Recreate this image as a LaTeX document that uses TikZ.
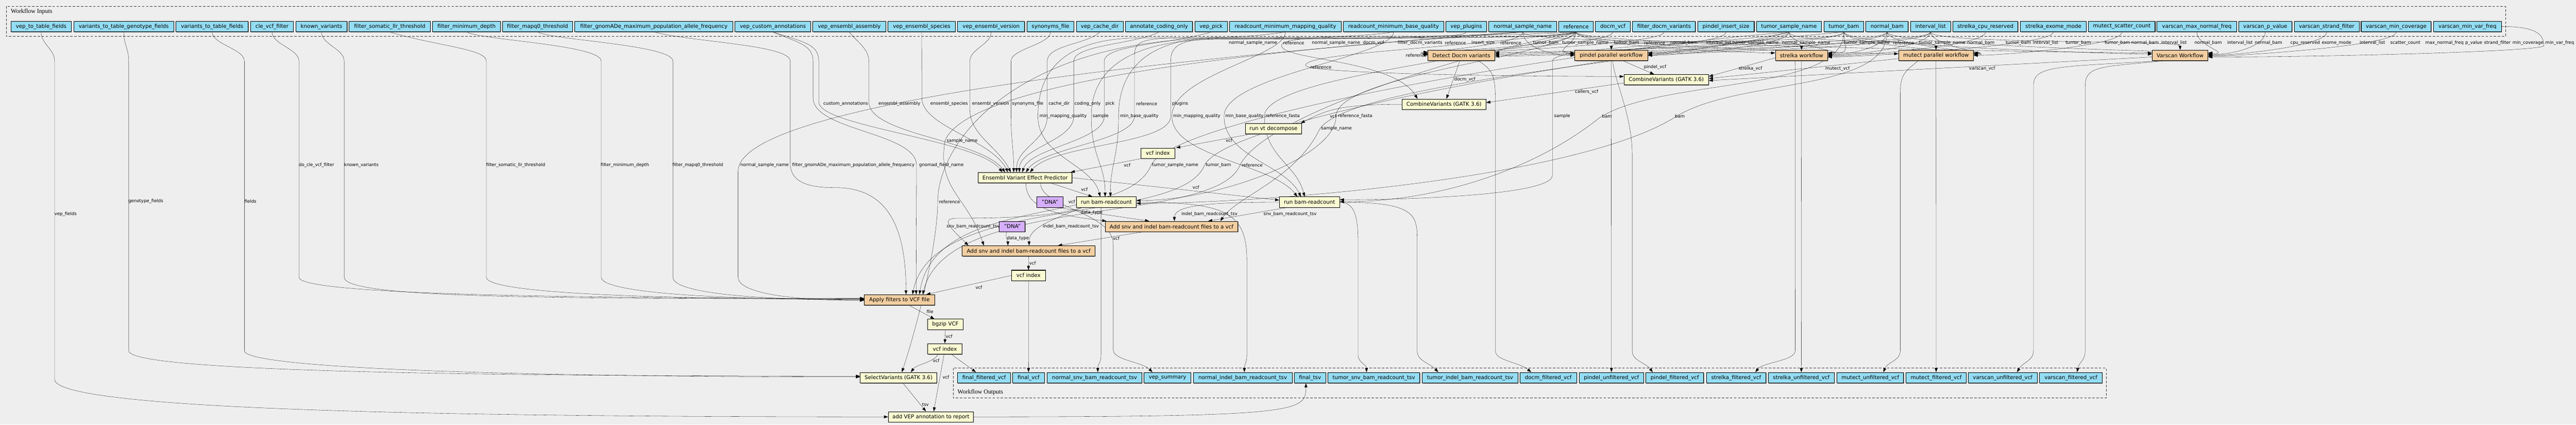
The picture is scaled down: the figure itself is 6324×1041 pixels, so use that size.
\documentclass[tikz,border=0pt]{standalone}
\usepackage{fontspec}
\setmainfont{DejaVu Sans}
\newfontfamily\clusterfont{Liberation Serif}
\usetikzlibrary{arrows.meta,shadows}
\definecolor{canvas}{HTML}{EEEEEE}
\definecolor{inblue}{HTML}{94DDF4}
\definecolor{stepyellow}{HTML}{FAFAD2}
\definecolor{wforange}{HTML}{F3CEA1}
\definecolor{dnapurple}{HTML}{D5AEFC}
\pgfdeclarelayer{back}
\pgfdeclarelayer{edges}
\pgfsetlayers{back,edges,main}
\tikzset{
  gvbox/.style={draw, line width=1.3pt, inner xsep=2pt, inner ysep=0pt, minimum height=25.5pt,
    font=\fontsize{13}{15}\selectfont,
    drop shadow={shadow xshift=1pt, shadow yshift=-1.5pt, opacity=0.7, fill=black!60}},
  inbox/.style={gvbox, fill=inblue, minimum height=26pt},
  stepbox/.style={gvbox, fill=stepyellow},
  wfbox/.style={gvbox, fill=wforange},
  dnabox/.style={gvbox, fill=dnapurple},
  elabel/.style={font=\fontsize{10.8}{12}\selectfont, inner sep=0pt},
  cluster/.style={draw=black!80, line width=1.4pt, dash pattern=on 6pt off 4pt},
  clusterlabel/.style={font=\clusterfont\fontsize{15}{17}\selectfont, anchor=west, inner sep=0pt},
}
\begin{document}
\begin{tikzpicture}[x=1pt, y=-1pt, line width=1.3pt, >={Triangle[length=10pt,width=7pt]}]
\useasboundingbox (0,0) rectangle (6324,1041);
\begin{pgfonlayer}{back}
  \fill[canvas] (0,0) rectangle (6324,1041);
  \draw[cluster] (15.4,15.7) rectangle (6151.7,89);
  \draw[cluster] (2340,902.5) rectangle (5171,975.7);
\end{pgfonlayer}
\node[clusterlabel] (inlabel) at (26.5,28) {Workflow Inputs};
\node[clusterlabel] (outlabel) at (2350.7,962) {Workflow Outputs};

% workflow inputs
\node[inbox, minimum width=148.7] (vepfields) at (101.05,65) {vep\_to\_table\_fields};
\node[inbox, minimum width=245.5] (genofields) at (303.75,65) {variants\_to\_table\_genotype\_fields};
\node[inbox, minimum width=177.5] (tablefields) at (520.85,65) {variants\_to\_table\_fields};
\node[inbox, minimum width=105.3] (clefilter) at (667.85,65) {cle\_vcf\_filter};
\node[inbox, minimum width=126.2] (knownvar) at (789.2,65) {known\_variants};
\node[inbox, minimum width=199.3] (llrthresh) at (956.85,65) {filter\_somatic\_llr\_threshold};
\node[inbox, minimum width=167] (mindepth) at (1145.4,65) {filter\_minimum\_depth};
\node[inbox, minimum width=171.9] (mapqthresh) at (1319.75,65) {filter\_mapq0\_threshold};
\node[inbox, minimum width=387.9] (gnomadfreq) at (1605.25,65) {filter\_gnomADe\_maximum\_population\_allele\_frequency};
\node[inbox, minimum width=185.2] (customann) at (1897.4,65) {vep\_custom\_annotations};
\node[inbox, minimum width=178.8] (ensassembly) at (2085,65) {vep\_ensembl\_assembly};
\node[inbox, minimum width=165.5] (ensspecies) at (2262.75,65) {vep\_ensembl\_species};
\node[inbox, minimum width=164.2] (ensversion) at (2433.2,65) {vep\_ensembl\_version};
\node[inbox, minimum width=115.8] (synonyms) at (2578.8,65) {synonyms\_file};
\node[inbox, minimum width=115] (cachedir) at (2699.8,65) {vep\_cache\_dir};
\node[inbox, minimum width=164.9] (codingonly) at (2845.35,65) {annotate\_coding\_only};
\node[inbox, minimum width=80] (veppick) at (2973.4,65) {vep\_pick};
\node[inbox, minimum width=273.4] (rcmapq) at (3155.7,65) {readcount\_minimum\_mapping\_quality};
\node[inbox, minimum width=246.3] (rcbaseq) at (3421.15,65) {readcount\_minimum\_base\_quality};
\node[inbox, minimum width=99.6] (vepplugins) at (3599.7,65) {vep\_plugins};
\node[inbox, minimum width=166.2] (normalname) at (3738.2,65) {normal\_sample\_name};
\node[inbox, minimum width=84.1] (reference) at (3869.05,65) {reference};
\node[inbox, minimum width=85.5] (docmvcf) at (3959.55,65) {docm\_vcf};
\node[inbox, minimum width=154.3] (filterdocm) at (4085.15,65) {filter\_docm\_variants};
\node[inbox, minimum width=138.7] (insertsize) at (4237.25,65) {pindel\_insert\_size};
\node[inbox, minimum width=159.3] (tumorname) at (4391.85,65) {tumor\_sample\_name};
\node[inbox, minimum width=97.5] (tumorbam) at (4526.55,65) {tumor\_bam};
\node[inbox, minimum width=103.8] (normalbam) at (4632.8,65) {normal\_bam};
\node[inbox, minimum width=98.2] (intervals) at (4739.5,65) {interval\_list};
\node[inbox, minimum width=159.9] (strelkacpu) at (4874.15,65) {strelka\_cpu\_reserved};
\node[inbox, minimum width=161.4] (strelkaexome) at (5041.1,65) {strelka\_exome\_mode};
\node[inbox, minimum width=163.2] (mutectscatter) at (5209,65) {mutect\_scatter\_count};
\node[inbox, minimum width=195] (vsmaxnormal) at (5393.1,65) {varscan\_max\_normal\_freq};
\node[inbox, minimum width=131.2] (vspvalue) at (5561.1,65) {varscan\_p\_value};
\node[inbox, minimum width=159.2] (vsstrand) at (5711.9,65) {varscan\_strand\_filter};
\node[inbox, minimum width=171.9] (vsmincov) at (5882.45,65) {varscan\_min\_coverage};
\node[inbox, minimum width=167] (vsminvar) at (6057.5,65) {varscan\_min\_var\_freq};

% steps
\node[wfbox, minimum width=164.1] (docm) at (3587.75,135.8) {Detect Docm variants};
\node[wfbox, minimum width=178.9] (pindel) at (3955.65,135.8) {pindel parallel workflow};
\node[wfbox, minimum width=128.4] (strelka) at (4422.7,135.8) {strelka workflow};
\node[wfbox, minimum width=183.8] (mutect) at (4752.8,135.8) {mutect parallel workflow};
\node[wfbox, minimum width=136.8] (varscan) at (5352,135.8) {Varscan Workflow};
\node[stepbox, minimum width=207.6] (combine) at (4090.7,195.5) {CombineVariants (GATK 3.6)};
\node[stepbox, minimum width=206.2] (adddocm) at (3544.9,255.7) {CombineVariants (GATK 3.6)};
\node[stepbox, minimum width=138.3] (decompose) at (3126.5,315.5) {run vt decompose};
\node[stepbox, minimum width=82.9] (decompidx) at (2842.45,375.8) {vcf index};
\node[stepbox, minimum width=230.5] (vep) at (2516.55,435.8) {Ensembl Variant Effect Predictor};
\node[dnabox, minimum width=63.9] (dnaA) at (2577.55,495.8) {"DNA"};
\node[stepbox, minimum width=146.8] (normalrc) at (2716,495.8) {run bam-readcount};
\node[stepbox, minimum width=147.6] (tumorrc) at (3214.8,495.8) {run bam-readcount};
\node[wfbox, minimum width=325.9] (addtumor) at (2876.05,555.5) {Add snv and indel bam-readcount files to a vcf};
\node[dnabox, minimum width=63] (dnaB) at (2485.1,555.5) {"DNA"};
\node[wfbox, minimum width=325.8] (addnormal) at (2525.3,615.5) {Add snv and indel bam-readcount files to a vcf};
\node[stepbox, minimum width=82.9] (index) at (2524.85,675.5) {vcf index};
\node[wfbox, minimum width=172.5] (filter) at (2208.15,735.5) {Apply filters to VCF file};
\node[stepbox, minimum width=86.2] (bgzip) at (2320.9,795.5) {bgzip VCF};
\node[stepbox, minimum width=83.7] (filtidx) at (2319.65,855.5) {vcf index};
\node[stepbox, minimum width=188.3, minimum height=26] (select) at (2206.05,926.3) {SelectVariants (GATK 3.6)};
\node[stepbox, minimum width=208.9] (report) at (2285.25,1022.2) {add VEP annotation to report};

% workflow outputs
\node[inbox, minimum width=130.3] (outffvcf) at (2415.85,926.3) {final\_filtered\_vcf};
\node[inbox, minimum width=77.9] (outfvcf) at (2524.95,926.3) {final\_vcf};
\node[inbox, minimum width=233] (outnsnv) at (2687,926.3) {normal\_snv\_bam\_readcount\_tsv};
\node[inbox, minimum width=115.3] (outvepsum) at (2866.15,926.3) {vep\_summary};
\node[inbox, minimum width=243] (outnindel) at (3050.8,926.3) {normal\_indel\_bam\_readcount\_tsv};
\node[inbox, minimum width=77] (outftsv) at (3216,926.3) {final\_tsv};
\node[inbox, minimum width=225.5] (outtsnv) at (3372.65,926.3) {tumor\_snv\_bam\_readcount\_tsv};
\node[inbox, minimum width=234.2] (outtindel) at (3609,926.3) {tumor\_indel\_bam\_readcount\_tsv};
\node[inbox, minimum width=138.8] (outdocm) at (3800.9,926.3) {docm\_filtered\_vcf};
\node[inbox, minimum width=158.3] (outpunf) at (3955.95,926.3) {pindel\_unfiltered\_vcf};
\node[inbox, minimum width=142] (outpfil) at (4111.5,926.3) {pindel\_filtered\_vcf};
\node[inbox, minimum width=146.4] (outsfil) at (4262.2,926.3) {strelka\_filtered\_vcf};
\node[inbox, minimum width=162.6] (outsunf) at (4422.1,926.3) {strelka\_unfiltered\_vcf};
\node[inbox, minimum width=163.4] (outmunf) at (4591.6,926.3) {mutect\_unfiltered\_vcf};
\node[inbox, minimum width=148.2] (outmfil) at (4753.1,926.3) {mutect\_filtered\_vcf};
\node[inbox, minimum width=169.7] (outvunf) at (4916.55,926.3) {varscan\_unfiltered\_vcf};
\node[inbox, minimum width=153.9] (outvfil) at (5083.95,926.3) {varscan\_filtered\_vcf};

\begin{pgfonlayer}{edges}
% inputs into the caller workflows
\draw[->] (reference.south) .. controls +(0,40) and +(-60,0) .. ([yshift=8]docm.west) node[elabel] at (3477,136) {reference};
\draw[->] (normalname.south) .. controls +(0,35) and +(-70,0) .. ([yshift=5]docm.west) node[elabel] at (3076,105) {normal\_sample\_name};
\draw[->] (docmvcf.south) .. controls +(0,35) and +(-60,0) .. ([yshift=3]docm.west) node[elabel] at (3372,105) {docm\_vcf};
\draw[->] (filterdocm.south) .. controls +(0,35) and +(-60,0) .. ([yshift=1]docm.west) node[elabel] at (3486,105) {filter\_docm\_variants};
\draw[->] (tumorbam.south) .. controls +(0,35) and +(60,0) .. ([yshift=7]docm.east) node[elabel] at (3795,105) {tumor\_bam};
\draw[->] (tumorname.south) .. controls +(0,35) and +(60,0) .. ([yshift=4]docm.east) node[elabel] at (3892,105) {tumor\_sample\_name};
\draw[->] (normalbam.south) .. controls +(0,35) and +(60,0) .. ([yshift=1]docm.east) node[elabel] at (5569,105) {normal\_bam};
\draw[->] (intervals.south) .. controls +(0,35) and +(60,0) .. ([yshift=-2]docm.east) node[elabel] at (5824,105) {interval\_list};

\draw[->] (reference.south) .. controls +(0,30) and +(-60,0) .. ([yshift=6]pindel.west) node[elabel] at (3573,105) {reference};
\draw[->] (insertsize.south) .. controls +(0,35) and +(-60,0) .. ([yshift=3]pindel.west) node[elabel] at (3641,105) {insert\_size};
\draw[->] (normalname.south) .. controls +(0,35) and +(-60,0) .. (pindel.west) node[elabel] at (3280,105) {normal\_sample\_name};
\draw[->] (tumorbam.south) .. controls +(0,30) and +(0,-25) .. (pindel.north) node[elabel] at (3993,105) {tumor\_bam};
\draw[->] (normalbam.south) .. controls +(0,35) and +(60,0) .. ([yshift=6]pindel.east) node[elabel] at (4134,105) {normal\_bam};
\draw[->] (intervals.south) .. controls +(0,35) and +(60,0) .. ([yshift=3]pindel.east) node[elabel] at (4219,105) {interval\_list};
\draw[->] (tumorname.south) .. controls +(0,35) and +(60,0) .. (pindel.east) node[elabel] at (4310,105) {tumor\_sample\_name};

\draw[->] (reference.south) .. controls +(0,35) and +(-60,0) .. ([yshift=6]strelka.west) node[elabel] at (3709,105) {reference};
\draw[->] (normalname.south) .. controls +(0,30) and +(0,-25) .. (strelka.north) node[elabel] at (4434,105) {normal\_sample\_name};
\draw[->] (tumorname.south) .. controls +(0,35) and +(60,0) .. ([yshift=6]strelka.east) node[elabel] at (4583,105) {tumor\_sample\_name};
\draw[->] (tumorbam.south) .. controls +(0,35) and +(60,0) .. ([yshift=4]strelka.east) node[elabel] at (5102,105) {tumor\_bam};
\draw[->] (normalbam.south) .. controls +(0,35) and +(60,0) .. ([yshift=2]strelka.east) node[elabel] at (5266,105) {normal\_bam};
\draw[->] (intervals.south) .. controls +(0,35) and +(60,0) .. (strelka.east) node[elabel] at (5499,105) {interval\_list};
\draw[->] (strelkacpu.south) .. controls +(0,35) and +(60,0) .. ([yshift=-2]strelka.east) node[elabel] at (5659,105) {cpu\_reserved};
\draw[->] (strelkaexome.south) .. controls +(0,35) and +(60,0) .. ([yshift=-4]strelka.east) node[elabel] at (5736,105) {exome\_mode};

\draw[->] (reference.south) .. controls +(0,35) and +(-60,0) .. ([yshift=4]mutect.west) node[elabel] at (4062,105) {reference};
\draw[->] (tumorname.south) .. controls +(0,30) and +(0,-25) .. (mutect.north) node[elabel] at (4768,105) {tumor\_sample\_name};
\draw[->] (normalbam.south) .. controls +(0,35) and +(60,0) .. ([yshift=6]mutect.east) node[elabel] at (4863,105) {normal\_bam};
\draw[->] (tumorbam.south) .. controls +(0,35) and +(60,0) .. ([yshift=4]mutect.east) node[elabel] at (4955,105) {tumor\_bam};
\draw[->] (intervals.south) .. controls +(0,35) and +(60,0) .. ([yshift=2]mutect.east) node[elabel] at (5022,105) {interval\_list};
\draw[->] (mutectscatter.south) .. controls +(0,35) and +(60,0) .. (mutect.east) node[elabel] at (5905,105) {scatter\_count};

\draw[->] (reference.south) .. controls +(0,35) and +(-60,0) .. ([yshift=6]varscan.west) node[elabel] at (4673,105) {reference};
\draw[->] (tumorbam.south) .. controls +(0,35) and +(-60,0) .. ([yshift=3]varscan.west) node[elabel] at (5198,105) {tumor\_bam};
\draw[->] (intervals.south) .. controls +(0,30) and +(0,-25) .. (varscan.north) node[elabel] at (5337,105) {interval\_list};
\draw[->] (normalbam.south) .. controls +(0,35) and +(60,0) .. ([yshift=6]varscan.east) node[elabel] at (5421,105) {normal\_bam};
\draw[->] (vsmaxnormal.south) .. controls +(0,35) and +(60,0) .. ([yshift=4]varscan.east) node[elabel] at (6001,105) {max\_normal\_freq};
\draw[->] (vspvalue.south) .. controls +(0,35) and +(60,0) .. ([yshift=2]varscan.east) node[elabel] at (6073,105) {p\_value};
\draw[->] (vsstrand.south) .. controls +(0,35) and +(60,0) .. (varscan.east) node[elabel] at (6131,105) {strand\_filter};
\draw[->] (vsmincov.south) .. controls +(0,35) and +(60,0) .. ([yshift=-2]varscan.east) node[elabel] at (6206,105) {min\_coverage};
\draw[->] (vsminvar.east) .. controls +(80,0) and +(0,-30) .. (6245,112) .. controls +(0,14) and +(300,0) .. ([yshift=-4]varscan.east) node[elabel] at (6284,105) {min\_var\_freq};

% callers combined, decomposed, indexed
\draw[->] ([xshift=29]pindel.south) -- ([xshift=-30]combine.north) node[elabel] at (4063,165) {pindel\_vcf};
\draw[->] ([yshift=-6]strelka.west) -- ([yshift=8]combine.east) node[elabel] at (4297,168) {strelka\_vcf};
\draw[->] ([yshift=-8]mutect.west) -- ([yshift=3]combine.east) node[elabel] at (4511,168) {mutect\_vcf};
\draw[->] ([yshift=-4]varscan.west) -- ([yshift=-2]combine.east) node[elabel] at (4866,169) {varscan\_vcf};
\draw[->] (reference.south) .. controls +(-300,40) and +(0,-30) .. (3205,160) .. controls +(0,20) and +(-300,0) .. ([yshift=8]combine.west) node[elabel] at (3243,165) {reference};
\draw[->] ([xshift=-4]docm.south) -- ([xshift=6]adddocm.north) node[elabel] at (3596,195) {docm\_vcf};
\draw[->] ([yshift=-8]combine.west) -- ([yshift=4]adddocm.east) node[elabel] at (3895,225) {callers\_vcf};
\draw[->] (reference.south) .. controls +(-400,20) and +(40,-30) .. (3147,108) .. controls +(-20,40) and +(-60,-100) .. ([xshift=-65]adddocm.north) node[elabel] at (3176,105) {reference};
\draw[->] (adddocm.west) .. controls +(-160,0) and +(60,-30) .. ([xshift=-3]decompose.north east) node[elabel] at (3273,285) {vcf};
\draw[->] ([xshift=-57]decompose.south) -- ([xshift=3]decompidx.north east) node[elabel] at (3017,345) {vcf};
\draw[->] (decompidx.south west) -- ([xshift=-4]vep.north east) node[elabel] at (2767,405) {vcf};

% inputs into VEP
\draw[->] (customann.south) .. controls +(80,25) and +(0,-40) .. (2010,150) -- (2010,250) .. controls +(0,60) and +(-60,-80) .. ([xshift=-56]vep.north) node[elabel] at (2076,255) {custom\_annotations};
\draw[->] (ensassembly.south) .. controls +(20,25) and +(0,-30) .. (2133,150) -- (2133,250) .. controls +(0,80) and +(-60,-80) .. ([xshift=-49]vep.north) node[elabel] at (2208,255) {ensembl\_assembly};
\draw[->] (ensspecies.south) -- (2263,240) .. controls +(0,70) and +(-40,-80) .. ([xshift=-42]vep.north) node[elabel] at (2330,255) {ensembl\_species};
\draw[->] (ensversion.south) .. controls +(0,30) and +(0,-30) .. (2381,150) -- (2381,270) .. controls +(0,60) and +(-30,-60) .. ([xshift=-35]vep.north) node[elabel] at (2432,255) {ensembl\_version};
\draw[->] (synonyms.south) .. controls +(0,30) and +(0,-30) .. (2482,150) -- (2482,285) .. controls +(0,60) and +(0,-60) .. ([xshift=-28]vep.north) node[elabel] at (2523,255) {synonyms\_file};
\draw[->] (cachedir.south) .. controls +(-30,30) and +(0,-40) .. (2571,150) -- (2571,285) .. controls +(0,60) and +(0,-60) .. ([xshift=-21]vep.north) node[elabel] at (2600,255) {cache\_dir};
\draw[->] (codingonly.south) .. controls +(-60,30) and +(0,-40) .. (2636,150) -- (2636,285) .. controls +(0,60) and +(0,-60) .. ([xshift=-14]vep.north) node[elabel] at (2670,255) {coding\_only};
\draw[->] (veppick.south) .. controls +(-100,30) and +(0,-40) .. (2711,150) -- (2711,285) .. controls +(0,60) and +(20,-60) .. ([xshift=-7]vep.north) node[elabel] at (2725,255) {pick};
\draw[->] (reference.south) .. controls +(0,14) and +(300,0) .. (3200,93) -- (2900,93) .. controls +(-120,0) and +(0,-40) .. (2785,150) -- (2785,285) .. controls +(0,60) and +(40,-60) .. ([xshift=2]vep.north) node[elabel] at (2815,255) {reference};
\draw[->] (vepplugins.south) .. controls +(0,14) and +(250,0) .. (3150,95) -- (3000,95) .. controls +(-100,0) and +(0,-40) .. (2874,150) -- (2874,285) .. controls +(0,70) and +(60,-70) .. ([xshift=12]vep.north) node[elabel] at (2897,255) {plugins};

% bam-readcount
\draw[->] ([xshift=64]vep.south) -- ([xshift=-34]normalrc.north) node[elabel] at (2662,465) {vcf};
\draw[->] (vep.east) -- ([yshift=5]tumorrc.west) node[elabel] at (2936,459) {vcf};
\draw[->] (rcmapq.south) .. controls +(-100,14) and +(200,0) .. (2800,93) .. controls +(-200,0) and +(0,-100) .. (2548,285) .. controls +(0,100) and +(-20,-80) .. ([xshift=-15]normalrc.north) node[elabel] at (2610,285) {min\_mapping\_quality};
\draw[->] (normalname.south) .. controls +(-200,14) and +(250,0) .. (3000,96) .. controls +(-250,0) and +(0,-100) .. (2679,285) .. controls +(0,100) and +(0,-80) .. ([xshift=-3]normalrc.north) node[elabel] at (2702,285) {sample};
\draw[->] (rcbaseq.south) .. controls +(-100,14) and +(200,0) .. (3000,92) .. controls +(-200,0) and +(0,-100) .. (2746,285) .. controls +(0,100) and +(0,-80) .. ([xshift=10]normalrc.north) node[elabel] at (2797,285) {min\_base\_quality};
\draw[->] (reference.south) .. controls +(-50,60) and +(0,-100) .. (3280,285) .. controls +(0,100) and +(200,0) .. ([yshift=4]normalrc.east) node[elabel] at (3327,285) {reference\_fasta};
\draw[->] (normalbam.south) .. controls +(0,150) and +(150,-100) .. (4108,290) .. controls +(-250,150) and +(300,0) .. ([yshift=-3]normalrc.east) node[elabel] at (4124,285) {bam};
\draw[->] (rcmapq.south) .. controls +(0,60) and +(0,-100) .. (2877,285) .. controls +(0,100) and +(-60,-80) .. ([xshift=-30]tumorrc.north) node[elabel] at (2938,285) {min\_mapping\_quality};
\draw[->] (rcbaseq.south) .. controls +(0,60) and +(0,-100) .. (3005,285) .. controls +(0,100) and +(-40,-80) .. ([xshift=-21]tumorrc.north) node[elabel] at (3055,285) {min\_base\_quality};
\draw[->] (reference.south) .. controls +(-150,60) and +(0,-100) .. (3104,285) .. controls +(0,100) and +(-20,-80) .. ([xshift=-12]tumorrc.north) node[elabel] at (3149,285) {reference\_fasta};
\draw[->] (tumorname.south) .. controls +(-100,30) and +(0,-40) .. (3811,150) -- (3811,430) .. controls +(0,50) and +(150,0) .. ([yshift=6]tumorrc.east) node[elabel] at (3835,285) {sample};
\draw[->] (tumorbam.south) .. controls +(0,150) and +(150,-100) .. (3925,290) .. controls +(-150,120) and +(250,0) .. ([yshift=1]tumorrc.east) node[elabel] at (3945,285) {bam};

% readcounts written into the vcf
\draw[->] ([xshift=2]vep.south) .. controls +(0,60) and +(-130,-15) .. ([xshift=-160]addtumor.north) node[elabel] at (2631,495) {vcf};
\draw[->] ([xshift=20]dnaA.south) -- ([xshift=-55]addtumor.north) node[elabel] at (2680,521) {data\_type};
\draw[->] ([xshift=-57]tumorrc.south) -- ([xshift=90]addtumor.north) node[elabel] at (3167,525) {snv\_bam\_readcount\_tsv};
\draw[->] (tumorrc.west) .. controls +(-160,0) and +(0,-40) .. ([xshift=7]addtumor.north) node[elabel] at (2969,525) {indel\_bam\_readcount\_tsv};
\draw[->] (tumorname.south) .. controls +(-200,60) and +(60,-120) .. (3238,320) .. controls +(-60,120) and +(40,-60) .. ([xshift=120]addtumor.north) node[elabel] at (3281,315) {sample\_name};
\draw[->] ([xshift=-72]addtumor.south) -- ([xshift=72]addnormal.north) node[elabel] at (2740,585) {vcf};
\draw[->] ([xshift=-14]dnaB.south) .. controls +(-4,15) and +(0,-15) .. ([xshift=-51]addnormal.north) node[elabel] at (2499,585) {data\_type};
\draw[->] ([xshift=-60]normalrc.south) .. controls +(-80,25) and +(80,0) .. (2350,535) .. controls +(-45,0) and +(-40,-40) .. ([xshift=-148]addnormal.north) node[elabel] at (2389,555) {snv\_bam\_readcount\_tsv};
\draw[->] ([xshift=-61]normalrc.south) .. controls +(-70,30) and +(0,-45) .. ([xshift=1]addnormal.north) node[elabel] at (2629,555) {indel\_bam\_readcount\_tsv};
\draw[->] (normalname.south) .. controls +(-600,40) and +(60,-150) .. (2320,345) .. controls +(-20,120) and +(-40,-120) .. ([xshift=-110]addnormal.north) node[elabel] at (2362,345) {sample\_name};
\draw[->] (addnormal.south) -- (index.north) node[elabel] at (2535,645) {vcf};

% filtering
\draw[->] (clefilter.south) .. controls +(0,30) and +(0,-30) .. (734,150) -- (734,680) .. controls +(0,40) and +(-800,0) .. ([yshift=4]filter.west) node[elabel] at (777,405) {do\_cle\_vcf\_filter};
\draw[->] (knownvar.south) .. controls +(0,30) and +(0,-30) .. (845,150) -- (845,680) .. controls +(0,50) and +(-800,0) .. ([yshift=3]filter.west) node[elabel] at (887,405) {known\_variants};
\draw[->] (llrthresh.south) .. controls +(120,35) and +(0,-30) .. (1194,150) -- (1194,680) .. controls +(0,35) and +(-600,0) .. ([yshift=2]filter.west) node[elabel] at (1266,405) {filter\_somatic\_llr\_threshold};
\draw[->] (mindepth.south) .. controls +(40,20) and +(0,-40) .. (1476,150) -- (1476,680) .. controls +(0,35) and +(-400,0) .. ([yshift=1]filter.west) node[elabel] at (1534,405) {filter\_minimum\_depth};
\draw[->] (mapqthresh.south) .. controls +(40,20) and +(0,-40) .. (1652,150) -- (1652,680) .. controls +(0,35) and +(-300,0) .. (filter.west) node[elabel] at (1713,405) {filter\_mapq0\_threshold};
\draw[->] (normalname.south) .. controls +(-400,30) and +(0,-200) .. (1812,420) -- (1812,680) .. controls +(0,35) and +(-200,0) .. ([yshift=-1]filter.west) node[elabel] at (1877,405) {normal\_sample\_name};
\draw[->] (gnomadfreq.south) .. controls +(100,25) and +(0,-40) .. (1940,150) -- (1940,400) .. controls +(0,50) and +(-60,0) .. (2050,460) .. controls +(120,0) and +(0,-180) .. ([xshift=16]filter.north) node[elabel] at (2095,405) {filter\_gnomADe\_maximum\_population\_allele\_frequency};
\draw[->] (customann.south) .. controls +(60,25) and +(0,-40) .. (1996,150) -- (1996,240) .. controls +(0,80) and +(0,-80) .. (2250,405) .. controls +(0,100) and +(0,-150) .. ([xshift=41]filter.north) node[elabel] at (2311,405) {gnomad\_field\_name};
\draw[->] (tumorbam.south) .. controls +(-500,40) and +(60,-120) .. (2957,405) .. controls +(-60,150) and +(50,-250) .. ([xshift=32]filter.north) node[elabel] at (2991,405) {tumor\_bam};
\draw[->] (tumorname.south) .. controls +(-500,40) and +(60,-120) .. (2826,405) .. controls +(-60,150) and +(40,-250) .. ([xshift=49]filter.north) node[elabel] at (2885,405) {tumor\_sample\_name};
\draw[->] (reference.south) .. controls +(-300,60) and +(60,-120) .. (3044,405) .. controls +(-60,150) and +(60,-250) .. ([xshift=57]filter.north) node[elabel] at (3074,405) {reference};
\draw[->] (index.west) -- ([xshift=66]filter.north) node[elabel] at (2403,705) {vcf};
\draw[->] ([xshift=24]filter.south) -- ([xshift=-27]bgzip.north) node[elabel] at (2283,764) {file};
\draw[->] (bgzip.south) -- (filtidx.north) node[elabel] at (2330,825) {vcf};

% tables and report
\draw[->] (vepfields.south) .. controls +(0,30) and +(0,-30) .. (134,150) -- (134,930) .. controls +(0,75) and +(-1100,0) .. (report.west) node[elabel] at (161,525) {vep\_fields};
\draw[->] (genofields.south) .. controls +(0,30) and +(0,-30) .. (316,150) -- (316,860) .. controls +(0,50) and +(-1000,0) .. ([yshift=4]select.west) node[elabel] at (358,494) {genotype\_fields};
\draw[->] (tablefields.south) .. controls +(0,30) and +(0,-30) .. (600,150) -- (600,860) .. controls +(0,45) and +(-800,0) .. ([yshift=2]select.west) node[elabel] at (615,494) {fields};
\draw[->] (reference.south) .. controls +(0,16) and +(400,0) .. (3000,94) .. controls +(-500,0) and +(0,-150) .. (2302,495) .. controls +(0,100) and +(40,-120) .. ([xshift=8]select.north) node[elabel] at (2331,495) {reference};
\draw[->] ([xshift=-17]filtidx.south) .. controls +(-10,20) and +(15,-20) .. ([xshift=30]select.north) node[elabel] at (2298,885) {vcf};
\draw[->] ([xshift=-2]filtidx.south) -- ([xshift=7]report.north) node[elabel] at (2322,925) {vcf};
\draw[->] ([xshift=11]select.south) -- ([xshift=-12]report.north) node[elabel] at (2272,992) {tsv};

% into the workflow outputs
\draw[->] ([xshift=16]filtidx.south) -- ([xshift=-20]outffvcf.north);
\draw[->] (index.south) -- (outfvcf.north);
\draw[->] ([xshift=-13]normalrc.south) -- (2703,870) .. controls +(0,20) and +(0,-20) .. ([xshift=8]outnsnv.north);
\draw[->] ([xshift=38]vep.south) .. controls +(0,60) and +(0,-80) .. (2733,600) -- (2733,858) .. controls +(0,25) and +(-25,-25) .. ([xshift=-37]outvepsum.north);
\draw[->] (normalrc.east) .. controls +(220,0) and +(0,-120) .. (3061,640) -- (3061,870) .. controls +(0,20) and +(0,-20) .. ([xshift=4]outnindel.north);
\draw[->] (report.east) .. controls +(800,0) and +(0,70) .. ([xshift=-10]outftsv.south);
\draw[->] (tumorrc.east) .. controls +(40,0) and +(0,-60) .. (3334,600) -- (3334,870) .. controls +(0,20) and +(0,-20) .. ([xshift=-18]outtsnv.north);
\draw[->] (tumorrc.east) .. controls +(170,0) and +(0,-60) .. (3479,580) -- (3479,860) .. controls +(0,25) and +(-25,-25) .. ([xshift=-78]outtindel.north);
\draw[->] ([xshift=42]docm.south) .. controls +(30,20) and +(0,-60) .. (3671,240) -- (3671,860) .. controls +(0,25) and +(-30,-25) .. ([xshift=-42]outdocm.north);
\draw[->] (pindel.south) -- (outpunf.north);
\draw[->] ([xshift=4]pindel.south) .. controls +(0,40) and +(0,-100) .. (4007,380) -- (4007,860) .. controls +(0,25) and +(-20,-25) .. ([xshift=-54]outpfil.north);
\draw[->] ([xshift=-16]strelka.south) -- (4407,860) .. controls +(0,25) and +(20,-25) .. ([xshift=47]outsfil.north);
\draw[->] (strelka.south) -- (outsunf.north);
\draw[->] ([xshift=-44]mutect.south) .. controls +(-30,25) and +(0,-50) .. (4665,230) -- (4665,860) .. controls +(0,25) and +(10,-25) .. ([xshift=32]outmunf.north);
\draw[->] (mutect.south) -- (outmfil.north);
\draw[->] ([xshift=-50]varscan.south) .. controls +(-250,15) and +(0,-50) .. (4992,210) -- (4992,860) .. controls +(0,25) and +(15,-25) .. ([xshift=35]outvunf.north);
\draw[->] ([xshift=-40]varscan.south) .. controls +(-150,15) and +(0,-50) .. (5119,210) -- (5119,860) .. controls +(0,25) and +(5,-25) .. ([xshift=15]outvfil.north);
\end{pgfonlayer}
\end{tikzpicture}
\end{document}
